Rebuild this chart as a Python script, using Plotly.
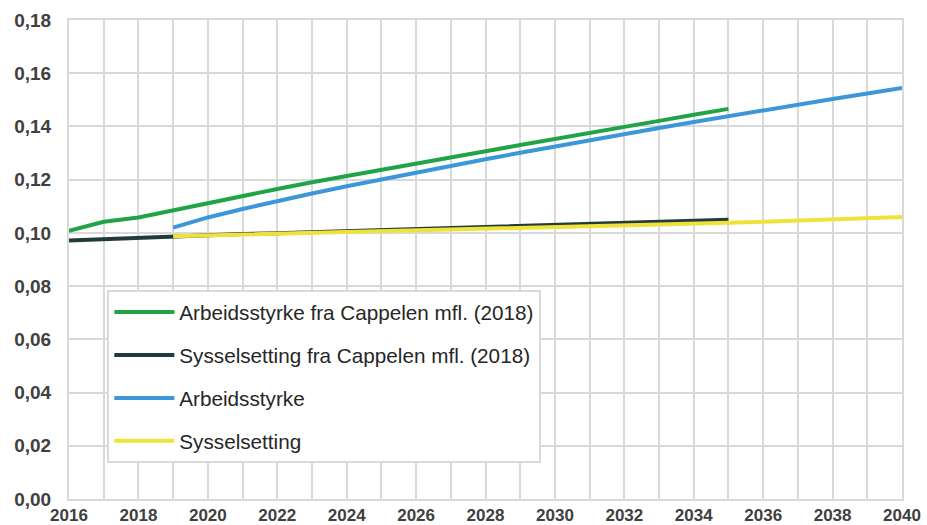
import plotly.graph_objects as go

years_cap = list(range(2016, 2036))
arb_cap = [0.1008, 0.1042, 0.1058, 0.1085, 0.1113, 0.1140, 0.1165, 0.1190, 0.1214, 0.1238,
           0.1261, 0.1284, 0.1307, 0.1330, 0.1352, 0.1375, 0.1398, 0.1421, 0.1444, 0.1466]
sys_cap = [0.0971, 0.0976, 0.0982, 0.0988, 0.0992, 0.0996, 0.0999, 0.1003, 0.1007, 0.1011,
           0.1015, 0.1018, 0.1022, 0.1026, 0.1030, 0.1033, 0.1037, 0.1041, 0.1045, 0.1049]
years_new = list(range(2019, 2041))
arb_new = [0.1020, 0.1058, 0.1090, 0.1120, 0.1148, 0.1175, 0.1201, 0.1226, 0.1252, 0.1277,
           0.1301, 0.1325, 0.1348, 0.1371, 0.1394, 0.1417, 0.1439, 0.1462, 0.1483, 0.1503,
           0.1524, 0.1545]
sys_new = [0.0987, 0.0990, 0.0993, 0.0996, 0.0999, 0.1002, 0.1005, 0.1008, 0.1011, 0.1014,
           0.1017, 0.1020, 0.1023, 0.1027, 0.1030, 0.1034, 0.1038, 0.1042, 0.1046, 0.1050,
           0.1055, 0.1060]

names = ["Arbeidsstyrke fra Cappelen mfl. (2018)", "Sysselsetting fra Cappelen mfl. (2018)",
         "Arbeidsstyrke", "Sysselsetting"]
colors = ["#21A448", "#233A3C", "#3B97D9", "#EFE23A"]

fig = go.Figure()
series = [(years_cap, arb_cap), (years_cap, sys_cap), (years_new, arb_new), (years_new, sys_new)]
for i, (xs, ys) in enumerate(series):
    fig.add_trace(go.Scatter(x=xs, y=ys, mode="lines", name=names[i],
                             line=dict(color=colors[i], width=4), legendgroup=str(i)))

fig.update_layout(
    width=927, height=525,
    margin=dict(l=69, r=25, t=20, b=26),
    paper_bgcolor="white", plot_bgcolor="white",
    separators=", ",
    font=dict(family="Liberation Sans, Arial, sans-serif", color="#404040"),
    showlegend=True,
    legend=dict(x=0.046, y=0.436, xanchor="left", yanchor="top",
                bgcolor="white", bordercolor="#D9D9D9", borderwidth=2,
                font=dict(size=20.7, color="#262626"), traceorder="grouped",
                tracegroupgap=13, itemwidth=60),
)
fig.update_xaxes(range=[2016, 2040], tick0=2016, dtick=2, showgrid=True, gridcolor="#D9D9D9",
                 gridwidth=2, minor=dict(dtick=1, showgrid=True, gridcolor="#D9D9D9", gridwidth=2),
                 showline=True, linecolor="#D9D9D9", linewidth=2, mirror=True, zeroline=False,
                 tickfont=dict(size=17, color="#404040", weight="bold"), ticks="", ticklen=0,
                 automargin=False)
fig.update_yaxes(range=[0, 0.18], dtick=0.02, tickformat=".2f", showgrid=True,
                 gridcolor="#D9D9D9", gridwidth=2, showline=True, linecolor="#D9D9D9",
                 linewidth=2, mirror=True, zeroline=False, ticklabelstandoff=12,
                 tickfont=dict(size=19, color="#404040", weight="bold"), ticks="",
                 automargin=False)

fig.write_html("out.html", config={"displayModeBar": False},
               post_script="document.body.style.margin='0';")
